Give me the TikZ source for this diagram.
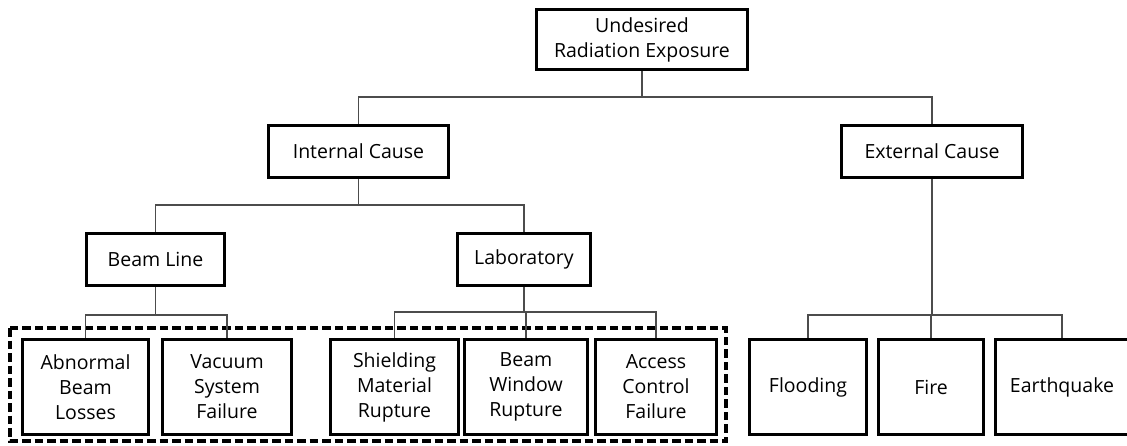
\documentclass[tikz,border=0pt]{standalone}
\usepackage{fontspec}
\setmainfont{Open Sans}
\begin{document}
\begin{tikzpicture}[x=1pt,y=-1pt,
  box/.style={draw=black, line width=3.5pt, fill=white, align=center, inner sep=0pt,
    font=\fontsize{19.5}{25}\selectfont, text=black},
  conn/.style={draw=black!70, line width=1.3pt}]
\useasboundingbox (0,0) rectangle (1127,446);
% group frame
\draw[line width=3.5pt, dash pattern=on 8.5pt off 4pt] (10,328) rectangle (726,441);

% nodes
\node[box, minimum width=211pt, minimum height=60pt] (top) at (642,39.5) {Undesired\\Radiation Exposure};
\node[box, minimum width=180pt, minimum height=52pt] (int) at (358.5,151.5) {Internal Cause};
\node[box, minimum width=181pt, minimum height=52pt] (ext) at (932,151.5) {External Cause};
\node[box, minimum width=138pt, minimum height=52pt] (bl) at (155.5,259.5) {Beam Line};
\node[box, minimum width=133pt, minimum height=52pt] (lab) at (524,259.5) {Laboratory};

\node[box, minimum width=126pt, minimum height=95pt] (ab) at (85.5,387) {Abnormal\\Beam\\Losses};
\node[box, minimum width=129pt, minimum height=95pt] (vac) at (227,387) {Vacuum\\System\\Failure};
\node[box, minimum width=128pt, minimum height=95pt] (sh) at (394.5,387) {Shielding\\Material\\Rupture};
\node[box, minimum width=123pt, minimum height=95pt] (bw) at (526,387) {Beam\\Window\\Rupture};
\node[box, minimum width=121pt, minimum height=95pt] (ac) at (656,387) {Access\\Control\\Failure};
\node[box, minimum width=117pt, minimum height=95pt] (fl) at (808,387) {Flooding};
\node[box, minimum width=105pt, minimum height=95pt] (fi) at (931,387) {Fire};
\node[box, minimum width=133pt, minimum height=95pt] (eq) at (1062,387) {Earthquake};

% bus points
\coordinate (b1) at (642,97);
\coordinate (b2) at (358.5,205);
\coordinate (b3) at (155.5,315);
\coordinate (b4) at (524,312);
\coordinate (b5) at (932,315);

% connectors
\draw[conn] (top.south) -- (b1);
\draw[conn] (int.north) |- (b1) -| (ext.north);
\draw[conn] (int.south) -- (b2);
\draw[conn] (bl.north) |- (b2) -| (lab.north);
\draw[conn] (bl.south) -- (b3);
\draw[conn] (ab.north) |- (b3) -| (vac.north);
\draw[conn] (lab.south) -- (b4);
\draw[conn] (sh.north) |- (b4) -| (ac.north);
\draw[conn] (b4) -- (b4 -| bw.north) -- (bw.north);
\draw[conn] (ext.south) -- (b5);
\draw[conn] (fl.north) |- (b5) -| (eq.north);
\draw[conn] (b5) -- (b5 -| fi.north) -- (fi.north);
\end{tikzpicture}
\end{document}
